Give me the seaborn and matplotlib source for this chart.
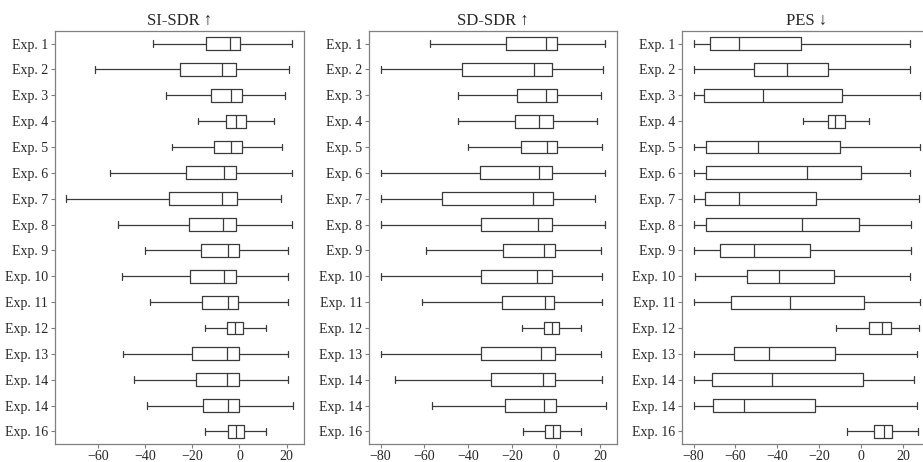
import numpy as np
import pandas as pd
import matplotlib.pyplot as plt
import seaborn as sns

sns.set_theme(style='white')
plt.rcParams['font.family'] = ['Liberation Serif', 'DejaVu Serif']

labels = ['Exp. 1', 'Exp. 2', 'Exp. 3', 'Exp. 4', 'Exp. 5', 'Exp. 6', 'Exp. 7', 'Exp. 8',
          'Exp. 9', 'Exp. 10', 'Exp. 11', 'Exp. 12', 'Exp. 13', 'Exp. 14', 'Exp. 14', 'Exp. 16']

# five-number summaries (whisker low, q1, median, q3, whisker high)
si_lo = [-36.5, -61.3, -31.3, -17.5, -28.5, -54.9, -73.5, -51.4, -40.2, -49.8, -37.9, -14.7, -49.5, -44.9, -39.2, -14.6]
si_q1 = [-14.4, -25.3, -12.2, -5.7, -10.9, -22.8, -30.0, -21.5, -16.3, -20.9, -15.7, -5.1, -20.1, -18.3, -15.6, -5.0]
si_med = [-4.1, -7.6, -3.8, -1.6, -3.5, -6.7, -7.5, -6.9, -4.8, -6.7, -4.7, -1.7, -5.5, -5.5, -5.0, -1.6]
si_q3 = [0.3, -1.3, 0.9, 2.7, 1.0, -1.4, -1.0, -1.4, -0.3, -1.4, -0.6, 1.6, -0.3, -0.3, -0.1, 1.8]
si_hi = [22.1, 21.1, 19.5, 14.6, 18.1, 22.2, 17.7, 22.2, 20.4, 20.5, 20.5, 11.3, 20.5, 20.8, 22.6, 11.2]

sd_lo = [-57.3, -80.0, -44.6, -44.8, -40.4, -80.0, -80.0, -80.0, -59.4, -80.0, -61.1, -15.4, -80.0, -73.3, -56.6, -15.1]
sd_q1 = [-22.9, -43.0, -17.8, -18.7, -16.0, -34.8, -51.9, -34.1, -24.3, -34.4, -24.9, -5.4, -34.5, -29.9, -23.4, -5.0]
sd_med = [-4.8, -10.3, -4.8, -7.7, -4.2, -8.1, -10.6, -8.3, -5.6, -8.9, -5.3, -2.1, -7.1, -6.0, -5.4, -1.5]
sd_q3 = [0.2, -1.8, 0.3, -1.5, 0.3, -2.0, -1.7, -2.0, -0.5, -2.0, -0.9, 1.2, -0.8, -0.6, -0.2, 1.7]
sd_hi = [22.0, 21.1, 20.4, 18.3, 20.7, 22.0, 17.5, 22.2, 20.4, 20.7, 20.7, 11.3, 20.5, 20.7, 22.5, 11.3]

pes_lo = [-80.0, -80.0, -80.0, -27.7, -80.0, -80.0, -80.0, -80.0, -80.0, -79.5, -80.0, -11.8, -80.0, -80.0, -80.0, -6.7]
pes_q1 = [-72.3, -51.3, -75.2, -15.9, -73.9, -74.2, -74.5, -74.0, -67.2, -54.5, -62.1, 3.8, -60.7, -71.3, -70.5, 6.1]
pes_med = [-58.4, -35.4, -46.8, -12.4, -49.2, -25.8, -58.4, -28.0, -51.3, -39.2, -34.1, 9.9, -44.1, -42.7, -56.1, 10.8]
pes_q3 = [-28.8, -15.6, -9.2, -7.8, -10.2, 0.2, -21.7, -1.1, -24.2, -13.1, 1.4, 14.3, -12.3, 0.8, -22.1, 14.6]
pes_hi = [23.4, 23.4, 28.0, 4.0, 28.0, 23.4, 27.7, 23.9, 23.7, 23.4, 28.0, 27.5, 26.8, 25.2, 26.6, 27.2]

titles = ['SI-SDR \u2191', 'SD-SDR \u2191', 'PES \u2193']


def long_frame(lo, q1, med, q3, hi):
    rows = []
    for i in range(len(labels)):
        for v in (lo[i], q1[i], med[i], q3[i], hi[i]):
            rows.append({'row': i, 'value': v})
    return pd.DataFrame(rows)


frames = [long_frame(si_lo, si_q1, si_med, si_q3, si_hi),
          long_frame(sd_lo, sd_q1, sd_med, sd_q3, sd_hi),
          long_frame(pes_lo, pes_q1, pes_med, pes_q3, pes_hi)]

fig = plt.figure(figsize=(9.23, 4.62), dpi=100)
# axes positions in figure fractions (third panel runs off the right edge like the original)
positions = [[0.0596, 0.0383, 0.2698, 0.8953],
             [0.4001, 0.0383, 0.2684, 0.8953],
             [0.7392, 0.0383, 0.2694, 0.8953]]

for df, title, pos in zip(frames, titles, positions):
    ax = fig.add_axes(pos)
    sns.boxplot(data=df, x='value', y='row', orient='y', whis=(0, 100), width=0.5,
                fill=False, color='#3a3a3a', saturation=1, linewidth=0.9, ax=ax)
    ax.set_yticks(range(len(labels)))
    ax.set_yticklabels(labels)
    ax.set_xlabel('')
    ax.set_ylabel('')
    ax.set_title(title, fontsize=12, pad=4)
    ax.tick_params(axis='both', labelsize=10, length=3, width=0.8, color='#808080',
                   left=True, bottom=True)
    ax.tick_params(axis='y', pad=2)
    ax.tick_params(axis='x', pad=1)
    for sp in ax.spines.values():
        sp.set_color('#808080')
        sp.set_linewidth(0.9)
    ax.set_xticks([-80, -60, -40, -20, 0, 20])
    ax.set_xlim(min(df['value']) - 0.05 * np.ptp(df['value']),
                max(df['value']) + 0.05 * np.ptp(df['value']))

fig.savefig('out.png', dpi=100)
